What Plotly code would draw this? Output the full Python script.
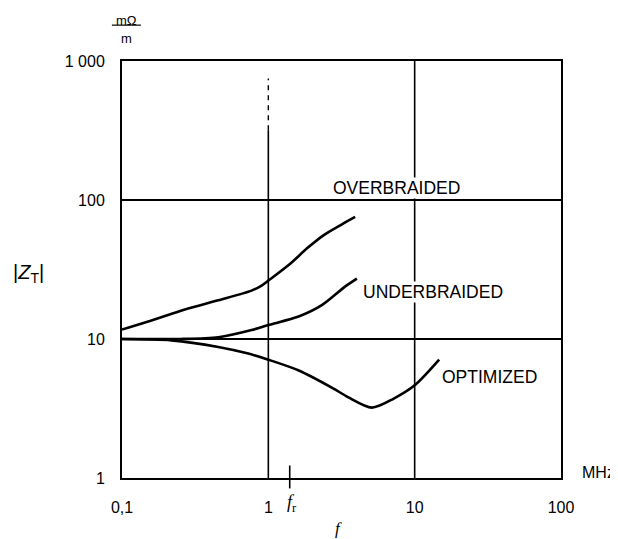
import math
import plotly.graph_objects as go

# ---- data ----
over_f = [0.1, 0.159, 0.269, 0.455, 0.768, 0.9, 1.0, 1.41, 1.83, 2.38, 3.1, 3.92]
over_z = [11.7, 13.6, 16.3, 19.0, 22.3, 24.2, 26.3, 34.8, 44.7, 55.7, 65.8, 75.5]

under_f = [0.1, 0.25, 0.455, 0.768, 1.0, 1.61, 2.32, 3.36, 4.03]
under_z = [10.0, 10.0, 10.3, 11.6, 12.6, 14.5, 17.5, 23.9, 27.2]

opt_f = [0.1, 0.218, 0.455, 0.73, 1.0, 1.6, 2.79, 3.5, 5.1, 7.2, 10.0, 14.7]
opt_z = [10.0, 9.78, 8.76, 7.85, 7.1, 5.96, 4.4, 3.82, 3.21, 3.73, 4.64, 7.1]

x_tickvals = [0.1, 1, 10, 100]
x_ticktext = ["0,1", "1", "10", "100"]
y_tickvals = [1, 10, 100, 1000]
y_ticktext = ["1", "10", "100", "1 000"]

f_r = 1.4
grid_x = [1, 10]

FONT = "Liberation Sans, Arial, sans-serif"

fig = go.Figure()
for fx, zy in [(over_f, over_z), (under_f, under_z), (opt_f, opt_z)]:
    fig.add_trace(go.Scatter(x=fx, y=zy, mode="lines",
                             line=dict(color="black", width=2.6, shape="spline", smoothing=0.8),
                             hoverinfo="skip", showlegend=False))

# vertical grid lines
fig.add_shape(type="line", xref="x", yref="paper", x0=grid_x[1], x1=grid_x[1], y0=0, y1=1,
              line=dict(color="black", width=1.6))
fig.add_shape(type="line", xref="x", yref="paper", x0=grid_x[0], x1=grid_x[0], y0=0, y1=0.834,
              line=dict(color="black", width=1.6))
fig.add_shape(type="line", xref="x", yref="paper", x0=grid_x[0], x1=grid_x[0], y0=0.834, y1=0.958,
              line=dict(color="black", width=1.4, dash="5px,5px"))
# f_r marker
fig.add_shape(type="line", xref="x", yref="paper", x0=f_r, x1=f_r, y0=-0.025, y1=0.030,
              line=dict(color="black", width=1.6))
# unit fraction bar
fig.add_shape(type="line", xref="paper", yref="paper", x0=-0.023, x1=0.043, y0=1.086, y1=1.086,
              line=dict(color="black", width=1.2))

ann = []
def lbl(text, fx, zy, **kw):
    d = dict(text=text, x=math.log10(fx), y=math.log10(zy), xref="x", yref="y",
             xanchor="center", yanchor="middle",
             showarrow=False, font=dict(family=FONT, size=17.5, color="black"),
             bgcolor="white", borderpad=0)
    d.update(kw)
    ann.append(d)

lbl("OVERBRAIDED", 7.48, 123)
lbl("UNDERBRAIDED", 13.4, 21.8)
lbl("OPTIMIZED", 32.3, 5.33)

def plbl(text, x, y, size, family=FONT, xanchor="center"):
    ann.append(dict(text=text, x=x, y=y, xref="paper", yref="paper",
                    xanchor=xanchor, yanchor="middle", showarrow=False,
                    font=dict(family=family, size=size, color="black")))

plbl("|<i>Z</i><sub>T</sub>|", -0.214, 0.491, 20)
plbl("mΩ", 0.010, 1.0976, 13)
plbl("m", 0.010, 1.054, 13)
plbl("MHz", 1.1276, 0.014, 16, xanchor="right")
plbl("<i>f</i>", 0.493, -0.120, 17, family="Liberation Serif, serif")
plbl("<i>f</i><sub>r</sub>", 0.388, -0.061, 18, family="Liberation Serif, serif")

# the page is offset by the browser's 8px body margin
fig.update_layout(
    width=610, height=531,
    margin=dict(l=114, r=57, t=53, b=61),
    paper_bgcolor="white", plot_bgcolor="white",
    annotations=ann,
    showlegend=False,
    xaxis=dict(type="log", range=[-1, 2], tickvals=x_tickvals, ticktext=x_ticktext,
               showgrid=False, zeroline=False, showline=True, mirror=True,
               linecolor="black", linewidth=2, ticks="", ticklabelstandoff=14,
               tickfont=dict(family=FONT, size=16, color="black")),
    yaxis=dict(type="log", range=[0, 3], tickvals=y_tickvals, ticktext=y_ticktext,
               showgrid=True, gridcolor="black", gridwidth=1.6, zeroline=False,
               showline=True, mirror=True, linecolor="black", linewidth=2,
               ticks="", ticklabelstandoff=12,
               tickfont=dict(family=FONT, size=16, color="black")),
)

fig.write_html("out.html")
